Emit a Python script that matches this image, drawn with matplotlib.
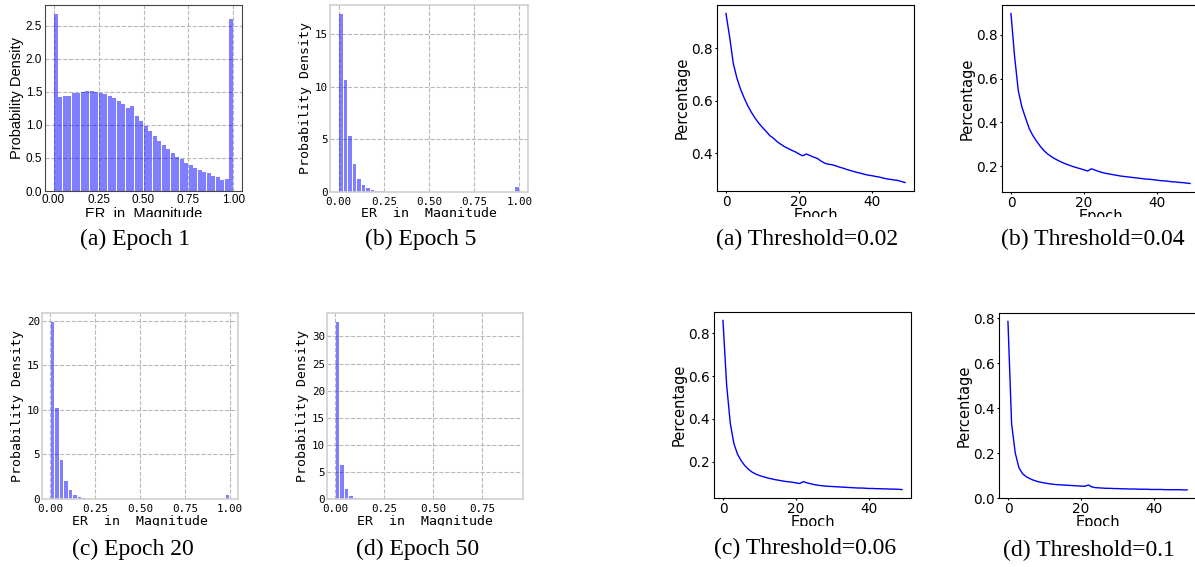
import numpy as np
import matplotlib
matplotlib.use('Agg')
import matplotlib.pyplot as plt
from matplotlib.patches import Rectangle
from matplotlib.ticker import MultipleLocator, FormatStrFormatter

W, H = 1195, 567

# histogram densities (40 bins each)
epoch1_density = [2.68, 1.42, 1.43, 1.43, 1.48, 1.49, 1.50, 1.51, 1.51, 1.50,
                  1.49, 1.47, 1.44, 1.40, 1.36, 1.31, 1.25, 1.28, 1.13, 1.06,
                  0.99, 0.91, 0.83, 0.76, 0.69, 0.63, 0.57, 0.52, 0.48, 0.43,
                  0.39, 0.35, 0.32, 0.28, 0.27, 0.22, 0.21, 0.17, 0.18, 2.60]
epoch5_density = [16.9, 10.6, 5.3, 2.65, 1.28, 0.67, 0.38, 0.19, 0.10, 0.05,
                  0.02, 0.01, 0, 0, 0, 0, 0, 0, 0, 0,
                  0, 0, 0, 0, 0, 0, 0, 0, 0, 0,
                  0, 0, 0, 0, 0, 0, 0, 0, 0, 0.51]
epoch20_density = [19.9, 10.2, 4.35, 2.0, 1.0, 0.5, 0.26, 0.10, 0.05, 0.02,
                   0.01, 0, 0, 0, 0, 0, 0, 0, 0, 0,
                   0, 0, 0, 0, 0, 0, 0, 0, 0, 0,
                   0, 0, 0, 0, 0, 0, 0, 0, 0, 0.50]
epoch50_density = [32.7, 6.23, 1.85, 0.60, 0.25, 0.08, 0.03, 0.01, 0, 0,
                   0, 0, 0, 0, 0, 0, 0, 0, 0, 0,
                   0, 0, 0, 0, 0, 0, 0, 0, 0, 0,
                   0, 0, 0, 0, 0, 0, 0, 0, 0, 0.01]
epoch50_max = 0.915

# percentage curves
epochs = np.arange(50)
thr_002 = [0.933, 0.844, 0.743, 0.686, 0.644, 0.610, 0.580, 0.555, 0.533, 0.514,
           0.498, 0.483, 0.467, 0.457, 0.444, 0.434, 0.425, 0.418, 0.411, 0.405,
           0.397, 0.390, 0.397, 0.391, 0.385, 0.380, 0.370, 0.362, 0.358, 0.356,
           0.352, 0.347, 0.343, 0.338, 0.334, 0.330, 0.326, 0.323, 0.319, 0.316,
           0.314, 0.311, 0.309, 0.305, 0.302, 0.300, 0.298, 0.296, 0.292, 0.288]
thr_004 = [0.896, 0.700, 0.545, 0.470, 0.420, 0.372, 0.340, 0.315, 0.292, 0.272,
           0.257, 0.245, 0.235, 0.226, 0.218, 0.211, 0.205, 0.199, 0.194, 0.189,
           0.184, 0.179, 0.189, 0.183, 0.177, 0.172, 0.168, 0.165, 0.162, 0.159,
           0.156, 0.154, 0.152, 0.150, 0.148, 0.146, 0.144, 0.142, 0.141, 0.139,
           0.137, 0.135, 0.134, 0.132, 0.130, 0.129, 0.127, 0.126, 0.124, 0.122]
thr_006 = [0.859, 0.560, 0.380, 0.285, 0.235, 0.205, 0.182, 0.165, 0.152, 0.143,
           0.136, 0.131, 0.126, 0.122, 0.118, 0.115, 0.112, 0.109, 0.107, 0.105,
           0.102, 0.099, 0.108, 0.102, 0.098, 0.094, 0.091, 0.089, 0.087, 0.086,
           0.085, 0.084, 0.083, 0.082, 0.081, 0.080, 0.079, 0.078, 0.078, 0.077,
           0.076, 0.076, 0.075, 0.075, 0.074, 0.074, 0.073, 0.073, 0.072, 0.071]
thr_01 = [0.786, 0.330, 0.200, 0.135, 0.108, 0.095, 0.086, 0.079, 0.074, 0.070,
          0.067, 0.064, 0.062, 0.060, 0.059, 0.058, 0.057, 0.056, 0.055, 0.054,
          0.053, 0.052, 0.058, 0.049, 0.046, 0.045, 0.044, 0.043, 0.043, 0.042,
          0.042, 0.041, 0.041, 0.040, 0.040, 0.040, 0.039, 0.039, 0.039, 0.038,
          0.038, 0.038, 0.038, 0.037, 0.037, 0.037, 0.037, 0.037, 0.036, 0.036]

hist_captions = ['(a) Epoch 1', '(b) Epoch 5', '(c) Epoch 20', '(d) Epoch 50']
line_captions = ['(a) Threshold=0.02', '(b) Threshold=0.04',
                 '(c) Threshold=0.06', '(d) Threshold=0.1']


def box(l, r, t, b):
    return [l / W, 1 - b / H, (r - l) / W, (b - t) / H]


def put_xlabel(ax, t, b, label_top):
    # place the top of the x label at a pixel row
    ax.xaxis.set_label_coords(0.5, -(label_top - b) / (b - t))


def draw_hist(ax, dens, hi, mono):
    edges = np.linspace(0, hi, len(dens) + 1)
    centers = (edges[:-1] + edges[1:]) / 2
    ax.hist(centers, bins=edges, weights=dens, rwidth=0.8, color='blue', alpha=0.5)
    ax.set_axisbelow(True)
    ax.grid(True, linestyle='--', color='#b8b8b8', linewidth=0.8)
    ax.xaxis.set_major_locator(MultipleLocator(0.25))
    ax.xaxis.set_major_formatter(FormatStrFormatter('%.2f'))
    ax.tick_params(length=0)
    if mono:
        fam = 'DejaVu Sans Mono'
        ax.yaxis.set_major_locator(MultipleLocator(5))
        ax.tick_params(axis='y', pad=1.5, labelsize=7.8)
        ax.tick_params(axis='x', pad=3.5, labelsize=7.8)
        for s in ax.spines.values():
            s.set_color('#d0d0d0')
            s.set_linewidth(1.2)
        ax.set_ylabel('Probability Density', family=fam, fontsize=9.5, labelpad=2)
        ax.set_xlabel('ER  in  Magnitude', family=fam, fontsize=9.5)
    else:
        fam = 'Liberation Sans'
        ax.tick_params(pad=2, labelsize=8.5)
        for s in ax.spines.values():
            s.set_color('#444444')
        ax.set_ylabel('Probability Density', family=fam, fontsize=10.5, labelpad=1)
        ax.set_xlabel('ER  in  Magnitude', family=fam, fontsize=10.5)
    for lab in ax.get_xticklabels() + ax.get_yticklabels():
        lab.set_family(fam)


def draw_line(ax, y):
    ax.plot(epochs, y, color='blue', linewidth=1)
    ax.yaxis.set_major_locator(MultipleLocator(0.2))
    ax.yaxis.set_major_formatter(FormatStrFormatter('%.1f'))
    ax.xaxis.set_major_locator(MultipleLocator(20))
    ax.tick_params(length=1.2, pad=1.8, labelsize=9.8)
    ax.set_xlabel('Epoch', fontsize=10.5)
    ax.set_ylabel('Percentage', fontsize=10.5, labelpad=1)


fig = plt.figure(figsize=(W / 100, H / 100), dpi=100)

ax = fig.add_axes(box(45, 242, 5, 191))
draw_hist(ax, epoch1_density, 1.0, False)
put_xlabel(ax, 5, 191, 207)
ax = fig.add_axes(box(330, 528, 5, 192))
draw_hist(ax, epoch5_density, 1.0, True)
put_xlabel(ax, 5, 192, 207)
ax = fig.add_axes(box(42, 238, 313, 499))
draw_hist(ax, epoch20_density, 1.0, True)
put_xlabel(ax, 313, 499, 515)
ax = fig.add_axes(box(327, 523, 313, 499))
draw_hist(ax, epoch50_density, epoch50_max, True)
put_xlabel(ax, 313, 499, 515)

ax = fig.add_axes(box(717, 914, 5, 191))
draw_line(ax, thr_002)
put_xlabel(ax, 5, 191, 208)
ax = fig.add_axes(box(1002, 1199, 5, 192))
draw_line(ax, thr_004)
put_xlabel(ax, 5, 192, 208.5)
ax = fig.add_axes(box(714, 911, 312, 498))
draw_line(ax, thr_006)
put_xlabel(ax, 312, 498, 515.5)
ax = fig.add_axes(box(999, 1196, 313, 498))
draw_line(ax, thr_01)
ax.set_ylim(bottom=0)
put_xlabel(ax, 313, 498, 515.5)

# the sub-figures were cropped just under the axis labels
for top, bot in [(217, 229), (526, 537)]:
    fig.add_artist(Rectangle((0, 1 - bot / H), 1, (bot - top) / H, transform=fig.transFigure,
                             facecolor='white', edgecolor='none', zorder=5))

cap_font = dict(ha='center', va='center', family='Liberation Serif', fontsize=17, zorder=10)
for (x, y), txt in zip([(135, 239), (421, 239), (133, 549), (418, 549)], hist_captions):
    fig.text(x / W, 1 - y / H, txt, **cap_font)
for (x, y), txt in zip([(807, 239), (1093, 239), (805, 548), (1089, 550)], line_captions):
    fig.text(x / W, 1 - y / H, txt, **cap_font)

fig.savefig('out.png', dpi=100, facecolor='white')
